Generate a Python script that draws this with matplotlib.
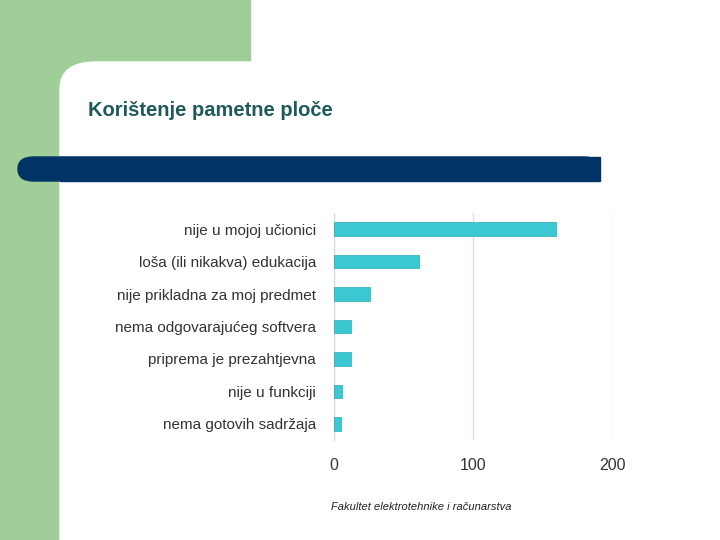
import matplotlib
matplotlib.use("Agg")
import matplotlib.pyplot as plt
from matplotlib.patches import Rectangle, FancyBboxPatch

plt.rcParams["font.family"] = "Liberation Sans"

categories = ["nije u mojoj učionici", "loša (ili nikakva) edukacija", "nije prikladna za moj predmet",
              "nema odgovarajućeg softvera", "priprema je prezahtjevna", "nije u funkciji", "nema gotovih sadržaja"]
values = [160, 61, 26, 12, 12, 6, 5]
ticks = [0, 100, 200]

fig = plt.figure(figsize=(7.2, 5.4), dpi=100)
W, H = 720, 540
def fx(x): return x / W
def fy(y): return 1 - y / H

fig.patches.append(Rectangle((0, 0), fx(60), 1, transform=fig.transFigure, color="#9FCE98", zorder=0))
fig.patches.append(Rectangle((0, fy(90)), fx(250), 1 - fy(90), transform=fig.transFigure, color="#9FCE98", zorder=0))
fig.patches.append(FancyBboxPatch((fx(60), -0.2), 1, fy(62) + 0.2, boxstyle="round,pad=0,rounding_size=0.05",
                                  transform=fig.transFigure, color="white", zorder=1))
fig.patches.append(FancyBboxPatch((fx(18), fy(181)), fx(582), fy(157) - fy(181),
                                  boxstyle="round,pad=0,rounding_size=0.022",
                                  transform=fig.transFigure, color="#003366", zorder=2))
fig.patches.append(Rectangle((fx(60), fy(181)), fx(540), fy(157) - fy(181),
                             transform=fig.transFigure, color="#003366", zorder=2))
fig.text(fx(88), fy(110), "Korištenje pametne ploče", fontsize=14.5, fontweight="bold",
         color="#1F5A5A", va="center", ha="left")
fig.text(fx(421), fy(507), "Fakultet elektrotehnike i računarstva", fontsize=8, style="italic",
         ha="center", va="center", color="#222222")

ax = fig.add_axes([fx(334), fy(440), fx(612) - fx(334), fy(213) - fy(440)])
ax.set_zorder(3)
ax.patch.set_alpha(0)
y = list(range(len(categories)))
ax.barh(y, values, height=0.42, color="#3CC8D2", edgecolor="#2AAAB5", linewidth=0.5, zorder=3)
ax.set_yticks(y)
ax.set_yticklabels(categories, fontsize=11, color="#333333")
ax.set_ylim(6.5, -0.5)
ax.set_xlim(0, 200)
ax.set_xticks(ticks)
ax.set_xticklabels([str(t) for t in ticks], fontsize=11.5, color="#333333")
ax.xaxis.grid(True, color="#D0E4F0", linewidth=1)
ax.set_axisbelow(True)
for s in ["top", "right", "bottom"]:
    ax.spines[s].set_visible(False)
ax.spines["left"].set_color("#C8DCE8")
ax.tick_params(length=0, pad=13)
ax.tick_params(axis="y", pad=13)
fig.savefig("out.png", dpi=100)
